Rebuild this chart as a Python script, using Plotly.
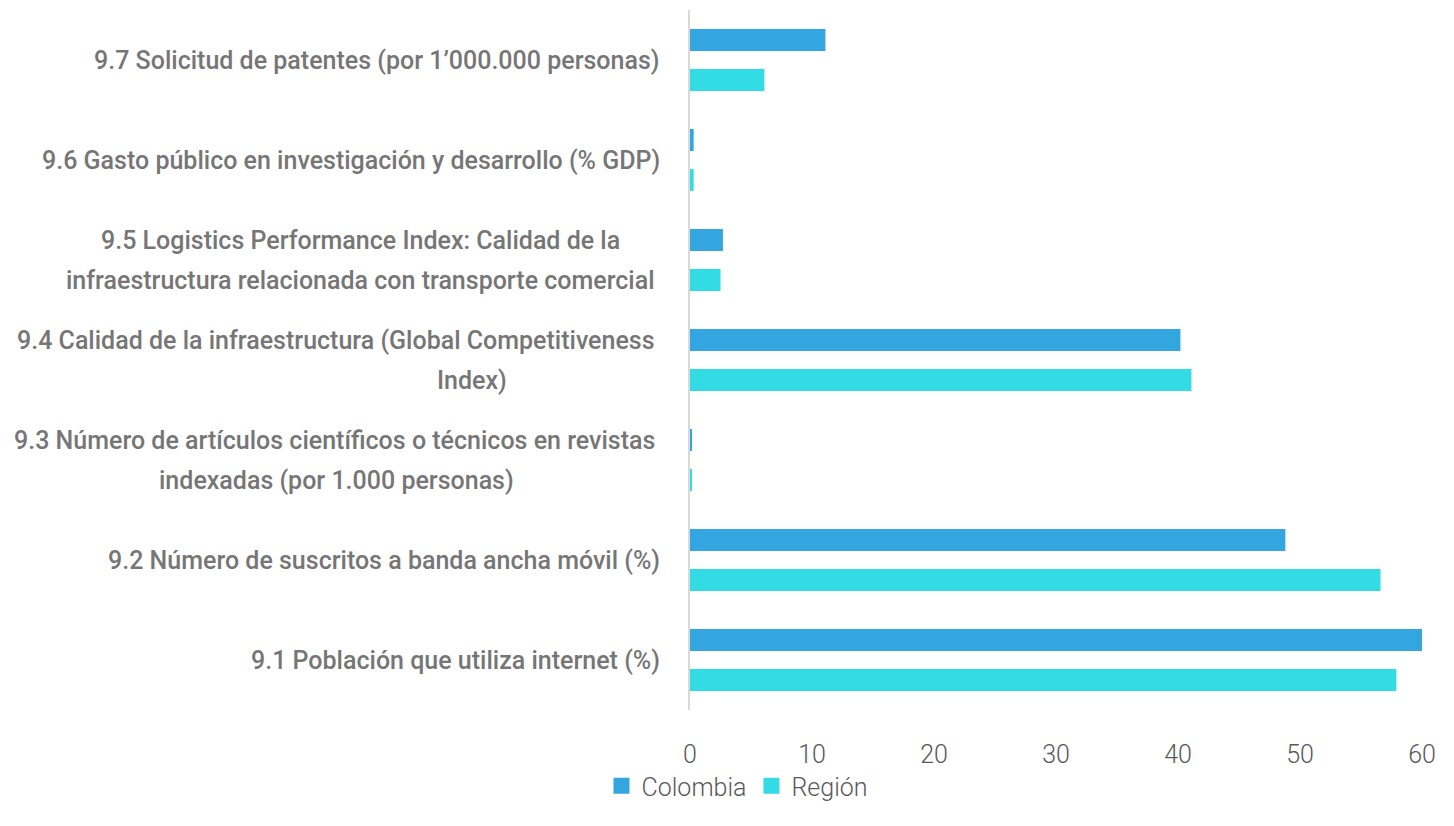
import plotly.graph_objects as go

categories = [
    "9.7 Solicitud de patentes (por 1’000.000 personas)",
    "9.6 Gasto público en investigación y desarrollo (% GDP)",
    "9.5 Logistics Performance Index: Calidad de la<br>infraestructura relacionada con transporte comercial",
    "9.4 Calidad de la infraestructura (Global Competitiveness<br>Index)",
    "9.3 Número de artículos científicos o técnicos en revistas<br>indexadas (por 1.000 personas)",
    "9.2 Número de suscritos a banda ancha móvil (%)",
    "9.1 Población que utiliza internet (%)",
]
colombia = [11.1, 0.3, 2.7, 40.2, 0.1, 48.8, 60.0]
region = [6.1, 0.3, 2.5, 41.1, 0.1, 56.6, 57.9]
x_ticks = [0, 10, 20, 30, 40, 50, 60]

W, H = 1454, 826
OFF = 8  # page body margin offset
ML, MR, MT, MB = 690 - OFF, 32 + OFF, 10 - OFF, 116 + OFF
COL_C, COL_R = "#33A6DF", "#33DBE5"

# horizontal centre (page px) of each line of the wrapped labels
line_centres = {2: [360, 360], 3: [336, 472], 4: [334, 336]}

fig = go.Figure()
fig.add_trace(go.Bar(y=categories, x=colombia, name="Colombia", orientation="h",
                     marker=dict(color=COL_C, line=dict(width=0)),
                     showlegend=False, legendgroup="c"))
fig.add_trace(go.Bar(y=categories, x=region, name="Región", orientation="h",
                     marker=dict(color=COL_R, line=dict(width=0)),
                     showlegend=False, legendgroup="r"))
# legend entries with larger square swatches
for nm, col, grp in [("Colombia", COL_C, "c"), ("Región", COL_R, "r")]:
    fig.add_trace(go.Scatter(x=[None], y=[None], mode="markers", name=nm,
                             legendgroup=grp,
                             marker=dict(symbol="square", size=18, color=col)))

label_font = dict(family="Roboto", size=25, color="#767676", weight=500)
for idx, cat in enumerate(categories):
    lines = cat.split("<br>")
    n = len(lines)
    for i, ln in enumerate(lines):
        shift = (n - 1) * 20 - i * 40
        if n == 1:
            kw = dict(xanchor="right", xshift=-28)
        else:
            kw = dict(xanchor="center", xshift=line_centres[idx][i] - 690)
        fig.add_annotation(x=0, xref="paper", y=cat, yref="y", text=ln,
                           showarrow=False, yanchor="middle", yshift=shift,
                           font=label_font, **kw)

fig.update_layout(
    width=W, height=H,
    margin=dict(l=ML, r=MR, t=MT, b=MB, autoexpand=False),
    paper_bgcolor="white", plot_bgcolor="white",
    barmode="group", bargap=0.2, bargroupgap=0.45,
    showlegend=True,
    legend=dict(orientation="h", xref="container", yref="container",
                x=(737 - OFF) / W, xanchor="center", y=(H - (786 - OFF)) / H,
                yanchor="middle", itemwidth=30,
                font=dict(family="Roboto", size=25, color="#595959", weight=300),
                traceorder="normal"),
    xaxis=dict(range=[0, 60], tickvals=x_ticks, showgrid=False, zeroline=False,
               showline=False, ticks="", ticklabelstandoff=27, automargin=False,
               tickfont=dict(family="Roboto", size=25, color="#595959", weight=300)),
    yaxis=dict(autorange="reversed", showticklabels=False, showgrid=False,
               zeroline=False, showline=True, linecolor="#D9D9D9", linewidth=2,
               ticks="", automargin=False),
)

fig.write_html("out.html")
